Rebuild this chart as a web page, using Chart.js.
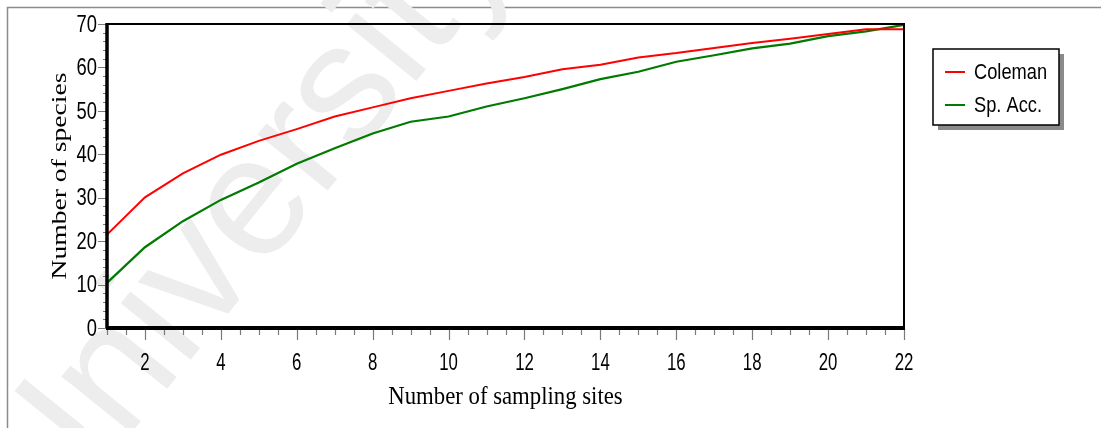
<!DOCTYPE html>
<html>
<head>
<meta charset="utf-8">
<script src="https://cdn.jsdelivr.net/npm/chart.js@4/dist/chart.umd.min.js"></script>
<style>
  html, body { margin: 0; padding: 0; background: #fff; }
  canvas { display: block; }
</style>
</head>
<body>
<canvas id="chart" width="1101" height="428"></canvas>
<script>
// values
const sites = [1, 2, 3, 4, 5, 6, 7, 8, 9, 10, 11, 12, 13, 14, 15, 16, 17, 18, 19, 20, 21, 22];
const coleman = [21.5, 30.1, 35.6, 39.9, 43.1, 45.8, 48.7, 50.8, 52.9, 54.6, 56.3, 57.8, 59.6, 60.6, 62.3, 63.3, 64.5, 65.6, 66.6, 67.7, 68.8, 68.8];
const spAcc = [10.4, 18.6, 24.6, 29.5, 33.5, 37.8, 41.4, 44.8, 47.5, 48.7, 51.0, 52.9, 55.0, 57.3, 59.0, 61.3, 62.8, 64.4, 65.5, 67.2, 68.3, 69.8];
const xTickLabels = [2, 4, 6, 8, 10, 12, 14, 16, 18, 20, 22];
const yTickLabels = [0, 10, 20, 30, 40, 50, 60, 70];

const sans = "'Liberation Sans', Arial, sans-serif";

function toPoints(ys) {
  return sites.map(function(s, i) { return { x: s, y: ys[i] }; });
}

// the original text is condensed, so squeeze it horizontally
function narrowText(ctx, text, x, y, sx) {
  ctx.save();
  ctx.translate(x, y);
  ctx.scale(sx, 1);
  ctx.fillText(text, 0, 0);
  ctx.restore();
}

// background, outer frame and watermark
const backdrop = {
  id: "backdrop",
  beforeDraw: function(chart) {
    const ctx = chart.ctx;
    ctx.save();
    ctx.fillStyle = "#fff";
    ctx.fillRect(0, 0, chart.width, chart.height);
    ctx.strokeStyle = "#8c8c8c";
    ctx.lineWidth = 1.5;
    ctx.strokeRect(7.5, 7.5, chart.width + 20, chart.height + 20);
    // watermark
    ctx.translate(245, 218);
    ctx.rotate(-51 * Math.PI / 180);
    ctx.fillStyle = "#ededed";
    ctx.font = "170px " + sans;
    ctx.textAlign = "center";
    ctx.textBaseline = "middle";
    ctx.fillText("University", 0, 0);
    ctx.restore();
  }
};

// axes frame, tick marks, tick labels, axis titles and boxed legend
const frame = {
  id: "frame",
  afterDraw: function(chart) {
    const ctx = chart.ctx;
    const a = chart.chartArea;
    const xs = chart.scales.x;
    const ys = chart.scales.y;
    ctx.save();

    // tick marks
    ctx.strokeStyle = "#7a7a7a";
    ctx.lineWidth = 1.2;
    ctx.beginPath();
    for (let v = 1; v <= 22.001; v += 0.5) {
      const px = Math.round(xs.getPixelForValue(v)) + 0.5;
      const len = (v % 2 === 0) ? 12 : 7;
      ctx.moveTo(px, a.bottom);
      ctx.lineTo(px, a.bottom + len);
    }
    for (let v = 0; v <= 70; v += 2) {
      const py = Math.round(ys.getPixelForValue(v)) + 0.5;
      const len = (v % 10 === 0) ? 9 : 4;
      ctx.moveTo(a.left, py);
      ctx.lineTo(a.left - len, py);
    }
    ctx.stroke();

    // plot frame
    ctx.strokeStyle = "#000";
    ctx.lineWidth = 2;
    ctx.beginPath();
    ctx.moveTo(a.left, a.top);
    ctx.lineTo(a.right, a.top);
    ctx.lineTo(a.right, a.bottom);
    ctx.stroke();
    ctx.lineWidth = 3.5;
    ctx.beginPath();
    ctx.moveTo(a.left, a.top - 1);
    ctx.lineTo(a.left, a.bottom);
    ctx.stroke();
    ctx.lineWidth = 4;
    ctx.beginPath();
    ctx.moveTo(a.left - 1, a.bottom);
    ctx.lineTo(a.right + 1, a.bottom);
    ctx.stroke();

    // tick labels from the scales
    ctx.fillStyle = "#000";
    ctx.textBaseline = "middle";
    ctx.textAlign = "center";
    ctx.font = "24px " + sans;
    xs.ticks.forEach(function(t) {
      narrowText(ctx, String(t.value), xs.getPixelForValue(t.value), 363, 0.7);
    });
    ctx.textAlign = "right";
    ctx.font = "24.5px " + sans;
    ys.ticks.forEach(function(t) {
      narrowText(ctx, String(t.value), 97, ys.getPixelForValue(t.value) + 1, 0.75);
    });

    // axis titles
    ctx.textAlign = "center";
    ctx.font = "25px 'Liberation Serif', serif";
    narrowText(ctx, "Number of sampling sites", (a.left + a.right) / 2, 397, 0.91);
    ctx.save();
    ctx.translate(61, 176);
    ctx.rotate(-Math.PI / 2);
    ctx.scale(1.38, 1);
    ctx.font = "20px 'Liberation Serif', serif";
    ctx.fillText("Number of species", 0, 0);
    ctx.restore();

    // legend box with shadow
    const bx = 933, by = 49, bw = 126, bh = 76;
    ctx.fillStyle = "#8a8a8a";
    ctx.fillRect(bx + 5, by + 5, bw, bh);
    ctx.fillStyle = "#fff";
    ctx.fillRect(bx, by, bw, bh);
    ctx.strokeStyle = "#000";
    ctx.lineWidth = 1.5;
    ctx.strokeRect(bx, by, bw, bh);
    ctx.font = "22px " + sans;
    ctx.textAlign = "left";
    chart.data.datasets.forEach(function(ds, i) {
      const ly = 72 + i * 33;
      ctx.strokeStyle = ds.borderColor;
      ctx.lineWidth = 2;
      ctx.beginPath();
      ctx.moveTo(945, ly);
      ctx.lineTo(965, ly);
      ctx.stroke();
      ctx.fillStyle = "#000";
      narrowText(ctx, ds.label, 974, ly + 1, 0.83);
    });

    ctx.restore();
  }
};

new Chart(document.getElementById("chart").getContext("2d"), {
  type: "line",
  data: {
    datasets: [{
      label: "Coleman",
      data: toPoints(coleman),
      borderColor: "#ff0000",
      borderWidth: 2,
      pointRadius: 0,
      tension: 0,
      fill: false
    }, {
      label: "Sp. Acc.",
      data: toPoints(spAcc),
      borderColor: "#007a00",
      borderWidth: 2.2,
      pointRadius: 0,
      tension: 0,
      fill: false
    }]
  },
  options: {
    responsive: false,
    animation: false,
    devicePixelRatio: 1,
    layout: { padding: { top: 24, right: 197, left: 0, bottom: 0 } },
    plugins: {
      legend: { display: false },
      tooltip: { enabled: false }
    },
    scales: {
      x: {
        type: "linear",
        min: 1,
        max: 22,
        afterBuildTicks: function(s) { s.ticks = xTickLabels.map(function(v) { return { value: v }; }); },
        afterFit: function(s) { s.height = 100; },
        grid: { display: false, drawTicks: false },
        border: { display: false },
        ticks: { display: false }
      },
      y: {
        min: 0,
        max: 70,
        afterBuildTicks: function(s) { s.ticks = yTickLabels.map(function(v) { return { value: v }; }); },
        afterFit: function(s) { s.width = 107; },
        grid: { display: false, drawTicks: false },
        border: { display: false },
        ticks: { display: false }
      }
    }
  },
  plugins: [backdrop, frame]
});
</script>
</body>
</html>
